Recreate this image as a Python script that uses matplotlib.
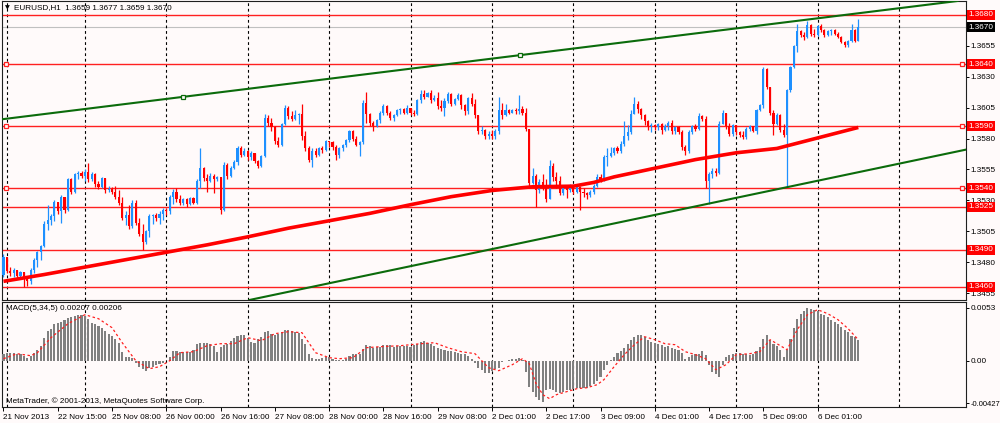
import numpy as np
import matplotlib.pyplot as plt
import matplotlib.transforms as mtransforms

plt.rcParams['font.family'] = ['Liberation Sans', 'DejaVu Sans']

# EURUSD H1, prices kept as pips above 1.3400
base_price = 1.3400
first_open = 70

closes = [84, 73, 71, 74, 69, 72, 66, 65, 74, 82, 88, 93, 111, 114, 117, 129, 121, 133, 122, 147,
          137, 151, 152, 150, 153, 147, 151, 143, 141, 148, 138, 139, 137, 133, 128, 116, 118, 109, 128, 112,
          103, 96, 105, 117,
          118, 116, 119, 122, 121, 133, 137, 131, 128, 131, 127, 132, 128, 146, 156, 148, 146, 150, 147, 149,
          122, 159, 150, 156, 161, 172, 167, 170, 165, 168, 162, 158, 166, 197, 193, 189, 178, 175, 192, 205,
          198, 196,
          199, 200, 182, 172, 163, 170, 167, 172, 171, 178, 177, 173, 167, 172, 175, 179, 186, 180, 175, 177,
          209, 200, 193, 190, 195, 201, 206, 201, 197, 199, 203, 204, 201, 205, 201, 200, 211, 216, 214, 217,
          211, 213, 206,
          205, 210, 216, 208, 212, 215, 207, 202, 213, 208, 199, 186, 187, 182, 184, 182, 186, 203, 199, 203,
          201, 203, 202, 204, 201, 188, 144, 150, 138, 145, 140, 131, 158, 149, 146, 136, 140, 138, 141, 137,
          141, 137, 136,
          134, 137, 142, 149, 147, 165, 166, 168, 172, 170, 176, 182, 185, 200, 208, 204, 199, 194, 190, 191,
          189, 192, 187, 190, 193, 186, 189, 185, 173, 170, 185, 190, 188, 198, 196, 146, 151, 154, 152, 192,
          201, 190, 184,
          191, 185, 183, 181, 188, 190, 186, 203, 207, 236, 222, 201, 192, 199, 187, 183, 219, 238, 255, 267,
          264, 262, 272, 265, 264, 271, 268, 264, 267, 268, 265, 262, 258, 256, 259, 268, 259, 270]

highs = [87, 84, 76, 75, 74, 73, 72, 68, 75, 83, 89, 94, 113, 126, 119, 130, 129, 134, 133, 148,
         148, 152, 154, 154, 155, 160, 153, 152, 146, 149, 148, 142, 141, 142, 138, 133, 121, 126, 130, 130,
         116, 111, 106, 119,
         119, 120, 121, 124, 124, 134, 139, 140, 134, 132, 132, 133, 133, 147, 172, 157, 151, 152, 151, 150,
         149, 161, 160, 158, 163, 174, 174, 172, 171, 170, 168, 163, 167, 200, 199, 197, 190, 181, 193, 207,
         206, 202,
         203, 201, 208, 186, 174, 172, 172, 173, 174, 179, 178, 178, 175, 173, 176, 180, 187, 187, 182, 178,
         211, 218, 201, 194, 196, 202, 208, 207, 202, 200, 204, 205, 205, 207, 205, 203, 212, 219, 219, 218,
         219, 215, 218,
         211, 213, 218, 217, 213, 217, 216, 208, 214, 217, 212, 199, 190, 188, 186, 187, 188, 214, 209, 208,
         204, 204, 205, 215, 206, 205, 188, 156, 151, 147, 151, 147, 163, 160, 153, 150, 142, 142, 143, 142,
         142, 142, 140,
         137, 138, 143, 151, 151, 167, 172, 173, 173, 174, 178, 194, 191, 203, 214, 210, 205, 200, 195, 193,
         192, 193, 193, 192, 194, 195, 190, 190, 187, 175, 187, 191, 192, 201, 199, 198, 153, 156, 156, 194,
         203, 201, 193,
         192, 191, 186, 186, 189, 191, 190, 204, 208, 238, 237, 222, 203, 201, 200, 192, 220, 239, 256, 273,
         268, 266, 275, 273, 269, 272, 273, 269, 268, 269, 269, 266, 263, 259, 260, 273, 269, 277]

lows = [68, 71, 69, 68, 67, 67, 60, 61, 62, 71, 76, 82, 92, 106, 110, 113, 119, 112, 120, 121,
        135, 136, 147, 148, 146, 145, 146, 141, 139, 140, 136, 137, 135, 131, 126, 114, 110, 107, 108, 110,
        101, 90, 95, 100,
        111, 113, 111, 114, 118, 119, 127, 129, 126, 126, 125, 126, 127, 127, 140, 146, 137, 145, 136, 146,
        119, 121, 147, 149, 155, 159, 165, 166, 163, 163, 160, 156, 157, 165, 190, 186, 176, 173, 174, 191,
        196, 194,
        195, 192, 179, 170, 161, 157, 165, 166, 168, 170, 173, 171, 163, 164, 170, 173, 177, 178, 174, 166,
        176, 193, 190, 186, 189, 193, 199, 199, 195, 194, 198, 200, 200, 200, 199, 198, 199, 209, 212, 214,
        209, 210, 204,
        202, 198, 209, 206, 207, 211, 204, 199, 200, 206, 197, 184, 184, 180, 180, 180, 180, 184, 196, 198,
        200, 201, 200, 200, 199, 186, 142, 143, 125, 136, 138, 129, 131, 146, 140, 134, 134, 132, 137, 135,
        136, 122, 133,
        131, 133, 135, 141, 145, 146, 158, 165, 167, 168, 168, 174, 179, 184, 200, 201, 196, 191, 187, 185,
        187, 187, 184, 186, 187, 184, 184, 184, 171, 167, 168, 184, 186, 187, 194, 140, 127, 148, 150, 151,
        192, 188, 182,
        182, 183, 181, 180, 180, 186, 185, 184, 202, 205, 220, 199, 183, 191, 185, 181, 141, 218, 237, 250,
        262, 260, 261, 263, 262, 263, 266, 262, 263, 264, 264, 261, 257, 254, 254, 258, 258, 259]

# moving average, read at a few bars
ma_idx = [0, 12, 24, 36, 48, 60, 72, 84, 96, 108, 120, 132, 144, 156, 168, 174, 180, 192, 204, 216, 228, 240, 252]
ma_val = [64.5, 70, 76, 82, 88, 94, 100.5, 107.5, 113.5, 119.5, 126.5, 133, 138, 141, 141.5, 144.5, 149,
          156, 163, 168.5, 172, 180.5, 189]

# MACD(5,34,5) histogram, units of 0.0001
macd_hist = [7, 8, 8, 8, 7, 7, 5, 3, 5, 8, 11, 15, 23, 30, 32, 37, 38, 39, 41, 43, 44, 45, 46,
             46, 45, 42, 38, 37, 35, 33, 30, 27, 25, 22, 18, 9, 4, 4, 3, -2, -6, -8, -10, -7, -6, -4, -3, -2, 0,
             4, 10, 10, 9, 9,
             9, 9, 11, 17, 18, 18, 18, 17, 15, 9, 14, 16, 17, 20, 23, 25, 26, 26, 23, 19, 18, 22, 24, 29,
             30, 27, 26, 27, 29, 31, 31, 30, 29, 28, 22, 17, 7, 3, 2, 2, 3, 4, 4, 2,
             1, 1, 1, 2, 5, 7, 7, 7, 12, 16, 15, 13, 14, 14, 16, 16, 16, 14, 15, 15,
             15, 15, 14, 16, 17, 19, 20, 18, 17, 15, 13, 12, 11, 10, 10, 9, 8, 7, 7,
             5, 2, -2, -7, -9, -12, -12, -10, -8, -7,
             -1, 0, 1, 2, 2, 3, 1, -11, -26, -31, -36, -39, -41, -29, -28, -29, -31, -32, -31, -29,
             -29, -28, -27, -27, -27, -27, -25, -23, -20, -16, -9, -4, 1, 4, 8, 10, 13, 17, 21, 24,
             26, 26, 24, 21, 19, 18, 17, 16, 14, 15, 13, 12, 11, 8, 2, 4, 6, 7, 7, 10,
             6, -4, -11, -13, -16, -4, 4, 6, 7, 8, 8, 7, 7, 6, 7, 10, 14, 22, 26,
             21, 17, 15, 11, 4, 11, 22, 33, 42, 47, 50, 53, 52, 51, 50, 47, 46, 44, 41, 39,
             37, 34, 31, 29, 25, 24, 21]

sig_idx = [0, 4, 8, 10, 14, 19, 24, 28, 32, 35, 39, 43, 46, 49, 52, 56, 60, 64, 68, 72,
           76, 80, 84, 88, 92, 96, 99, 103, 107, 111, 117, 123, 127, 131, 135, 139, 143, 146, 150, 153,
           155, 157, 159, 161, 163, 166, 169, 172, 175, 177, 180, 183, 186, 189, 192, 195, 198, 201, 204, 207,
           210, 213, 216, 220, 223, 226, 228, 231, 234, 237, 240, 243, 246, 249, 252]
sig_val = [2, 7, 5, 8, 23, 37, 46, 42, 33, 18, 0, -8, -6, 0, 8, 9, 15, 17, 17, 23,
           20, 27, 29, 28, 8, 3, 2, 3, 13, 14, 15, 17, 18, 13, 9, 7, -7, -10, -4, 2,
           -3, -23, -34, -38, -34, -31, -28, -27, -24, -19, -6, 6, 16, 24, 21, 17, 16, 9, 6, 2,
           -9, -4, 6, 7, 9, 21, 17, 11, 31, 46, 51, 47, 41, 32, 21]

levels = [280, 240, 190, 140, 125, 90, 60]
level_labels = ['1.3680', '1.3640', '1.3590', '1.3540', '1.3525', '1.3490', '1.3460']
selected_levels = [240, 190, 140]
bid = 270

upper_pts = [(52.8, 213.7), (152.3, 247.5)]
lower_pts = [(169.9, 105.5), (256.9, 155.6)]

price_ticks = [255, 230, 205, 180, 155, 130, 105, 80, 55]
price_tick_labels = ['1.3655', '1.3630', '1.3605', '1.3580', '1.3555', '1.3530', '1.3505', '1.3480', '1.3455']

time_idx = [0, 16, 32, 48, 64, 80, 96, 112, 128, 144, 160, 176, 192, 208, 224, 240]
time_labels = ['21 Nov 2013', '22 Nov 15:00', '25 Nov 08:00', '26 Nov 00:00', '26 Nov 16:00',
               '27 Nov 08:00', '28 Nov 00:00', '28 Nov 16:00', '29 Nov 08:00', '2 Dec 01:00',
               '2 Dec 17:00', '3 Dec 09:00', '4 Dec 01:00', '4 Dec 17:00', '5 Dec 09:00', '6 Dec 01:00']
grid_idx = [1, 24, 48, 72, 96, 120, 144, 168, 192, 216, 240, 264]

macd_ticks = [53, 0, -42.7]
macd_tick_labels = ['0.0053', '0.00', '-0.00427']


def px(pips):
    return base_price + np.asarray(pips, dtype=float) / 1e4


bg = '#fffafa'
bull = '#1e90ff'
bear = '#ff0000'
fs = 5.9

fig = plt.figure(figsize=(10, 4.23), dpi=100, facecolor=bg)
ax = fig.add_axes([0.002, 1 - 300 / 423, 0.964, 299 / 423], facecolor=bg)
ax2 = fig.add_axes([0.002, 1 - 407 / 423, 0.964, 105 / 423], facecolor=bg)

x = np.arange(len(closes))
c = np.asarray(closes, dtype=float)
o = np.r_[first_open, c[:-1]]
h = np.maximum(np.asarray(highs, dtype=float), np.maximum(o, c))
l = np.minimum(np.asarray(lows, dtype=float), np.minimum(o, c))
colors = np.where(c >= o, bull, bear)

# candles
ax.vlines(x, px(l), px(h), colors=colors, lw=0.9, zorder=3)
body = np.maximum(np.abs(c - o), 0.5) / 1e4
ax.bar(x, body, bottom=px(np.minimum(o, c)), width=0.62, color=colors, lw=0, zorder=3)

# horizontal levels and current bid
blend = mtransforms.blended_transform_factory(ax.transAxes, ax.transData)
ax.axhline(px(bid), color='#c0c0c0', lw=0.8, zorder=1)
for lv in levels:
    ax.axhline(px(lv), color='#ff2020', lw=1.0, zorder=2)
for lv in selected_levels:
    ax.plot([0.004, 0.996], [px(lv), px(lv)], 's', transform=blend, ms=3.2,
            mfc=bg, mec='#ff2020', mew=0.9, zorder=6, clip_on=False)

# moving average
ax.plot(ma_idx, px(ma_val), color='#ff0000', lw=2.6, zorder=4, solid_capstyle='butt')

# trend channel
for p1, p2 in (upper_pts, lower_pts):
    ax.axline((p1[0], px(p1[1])), (p2[0], px(p2[1])), color='#0b6b0b', lw=1.5, zorder=5)
ax.plot([p[0] for p in upper_pts], [px(p[1]) for p in upper_pts], 's', ms=3.2,
        mfc=bg, mec='#0b6b0b', mew=0.9, zorder=6)

# MACD panel
ax2.bar(np.arange(len(macd_hist)), macd_hist, width=0.62, color='#808080', lw=0, zorder=3)
ax2.plot(sig_idx, sig_val, color='#ff2020', lw=0.9, ls=(0, (2, 2)), zorder=4)

for a in (ax, ax2):
    for g in grid_idx:
        a.axvline(g, color='black', lw=0.8, ls=(0, (2.5, 2.5)), zorder=1)
    a.set_xlim(-0.44, 283.75)
    for s in a.spines.values():
        s.set_color('#202020')
        s.set_linewidth(0.8)
    a.yaxis.tick_right()
    a.tick_params(axis='y', length=2.5, width=0.7, pad=1, labelsize=fs, colors='black')

ax.set_ylim(px(49.4), px(291.3))
ax.set_xticks([])
ax.set_yticks(px(price_ticks))
ax.set_yticklabels(price_tick_labels)

ax2.set_ylim(-46.3, 58.7)
ax2.set_yticks(macd_ticks)
ax2.set_yticklabels(macd_tick_labels)
ax2.tick_params(axis='y', pad=0.5)
ax2.get_yticklabels()[-1].set_fontsize(5.5)
ax2.set_xticks(time_idx)
ax2.set_xticklabels(time_labels, ha='left')
ax2.tick_params(axis='x', length=3, width=0.7, pad=2, labelsize=fs)

# price labels on the right scale
for lv, lab in zip(levels, level_labels):
    ax.text(1.0025, px(lv), lab, transform=blend, fontsize=fs, color='white', va='center', ha='left',
            bbox=dict(boxstyle='square,pad=0.18', fc='#ff0000', ec='none'), zorder=10, clip_on=False)
ax.text(1.0025, px(bid), '1.3670', transform=blend, fontsize=fs, color='white', va='center', ha='left',
        bbox=dict(boxstyle='square,pad=0.18', fc='black', ec='none'), zorder=10, clip_on=False)

# captions
fig.text(0.005, 1 - 8 / 423, '\u25bc', fontsize=4.5, va='center', family=['DejaVu Sans'])
fig.text(0.014, 1 - 8 / 423, 'EURUSD,H1  1.3659 1.3677 1.3659 1.3670', fontsize=fs, va='center')
ax2.text(0.004, 0.935, 'MACD(5,34,5) 0.00207 0.00206', transform=ax2.transAxes, fontsize=fs, va='center')
ax2.text(0.004, 0.06, 'MetaTrader, \u00a9 2001-2013, MetaQuotes Software Corp.', transform=ax2.transAxes,
         fontsize=fs, va='center')

fig.savefig('out.png', dpi=100, facecolor=bg)
